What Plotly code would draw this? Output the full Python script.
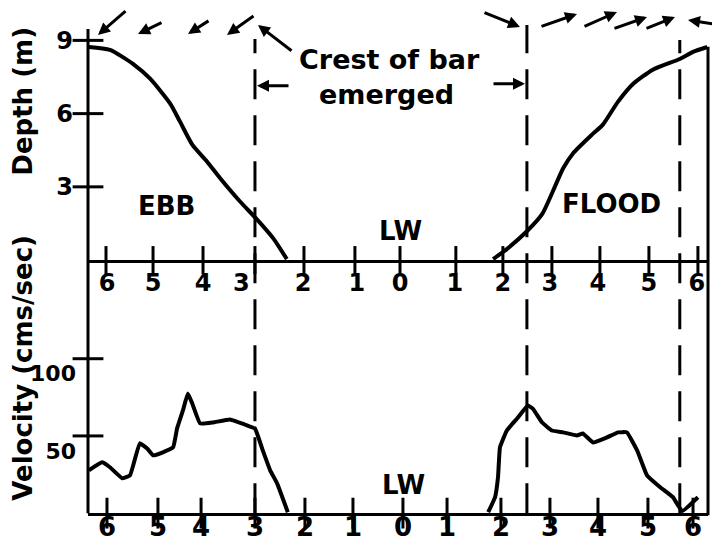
import plotly.graph_objects as go

# ---------------- data (time in hours from low water, LW = 0) ----------------
depth_ebb_h = [-6.35, -5.92, -5.45, -5.10, -4.69, -4.49, -4.24, -3.94, -3.67, -3.27, -2.92, -2.59, -2.31]
depth_ebb_m = [8.73, 8.61, 8.04, 7.43, 6.41, 5.67, 4.73, 4.04, 3.35, 2.41, 1.67, 0.90, 0.04]

depth_flood_h = [1.90, 2.18, 2.59, 2.90, 3.12, 3.33, 3.53, 3.94, 4.14, 4.45, 4.76, 5.16, 5.71, 5.98, 6.27]
depth_flood_m = [0.04, 0.45, 1.18, 1.88, 2.82, 3.76, 4.37, 5.18, 5.55, 6.49, 7.22, 7.80, 8.24, 8.53, 8.73]

vel_ebb_h = [-6.35, -6.08, -5.92, -5.67, -5.51, -5.31, -5.16, -5.04, -4.84, -4.63, -4.55, -4.43,
             -4.33, -4.24, -4.08, -3.82, -3.47, -3.12, -2.96, -2.80, -2.65, -2.51, -2.29]
vel_ebb_v = [27.7, 32.9, 29.7, 22.6, 24.5, 45.2, 41.9, 37.4, 39.4, 42.6, 54.8, 66.5,
             77.4, 71.0, 58.1, 58.7, 60.6, 56.8, 54.8, 40.6, 27.7, 19.4, 0.6]

vel_flood_h = [1.80, 1.94, 2.00, 2.04, 2.18, 2.39, 2.61, 2.71, 2.90, 3.10, 3.33, 3.61, 3.73,
               3.94, 4.22, 4.45, 4.63, 4.84, 5.04, 5.31, 5.57, 5.76, 6.08]
vel_flood_v = [0.6, 10.3, 23.2, 42.6, 53.5, 61.3, 69.7, 67.7, 58.7, 53.5, 52.3, 50.3, 51.6,
               45.8, 49.0, 52.3, 52.3, 40.6, 24.5, 16.8, 10.3, 1.3, 10.3]

# tick marks and tick labels (hours; labels show hours before / after LW)
top_tick_h = [-6.00, -5.04, -4.02, -2.96, -1.96, -0.92, 0.00, 1.14, 2.10, 3.10, 4.08, 5.08, 6.08]
top_label_h = [-5.98, -5.04, -4.02, -3.24, -1.98, -0.88, 0.00, 1.12, 2.10, 3.06, 4.04, 5.08, 6.06]
bot_tick_h = [-5.98, -4.94, -4.06, -2.96, -1.94, -0.96, 0.06, 0.96, 2.06, 3.06, 4.04, 5.06, 5.98]
hour_labels = ["6", "5", "4", "3", "2", "1", "0", "1", "2", "3", "4", "5", "6"]

depth_ticks = [3, 6, 9]
depth_labels = ["3", "6", "9"]
vel_ticks = [50, 100]
vel_labels = ["50", "100"]

bar_emerged_h = [-2.96, 2.59]   # crest of bar emerged
slack_h = [5.71]               # later dashed marker on flood

# ---------------- layout geometry (pixels of the 720x550 page) ----------------
OFF = 8                      # default page (body) margin of the html page
W, H = 720 - OFF, 550 - OFF
PX_L, PX_R = 88, 708
PX_PER_H, PX_LW = 49.0, 400
top_base, top_top = 259, 27
bot_base, bot_top = 513, 270
PX_PER_M = 24.5
PX_PER_V = 1.55

xr = [(PX_L - PX_LW) / PX_PER_H, (PX_R - PX_LW) / PX_PER_H]
def px(x): return (x - OFF) / W
def py(y): return 1 - (y - OFF) / H

FONT = "DejaVu Sans"
fnt = lambda s: dict(family=FONT, size=s, color="black", weight="bold")

fig = go.Figure()

line_style = dict(color="black", width=4, shape="spline", smoothing=0.6)
fig.add_trace(go.Scatter(x=depth_ebb_h, y=depth_ebb_m, mode="lines", line=line_style,
                         xaxis="x", yaxis="y", hoverinfo="skip"))
fig.add_trace(go.Scatter(x=depth_flood_h, y=depth_flood_m, mode="lines", line=line_style,
                         xaxis="x", yaxis="y", hoverinfo="skip"))
vline = dict(color="black", width=4, shape="spline", smoothing=0.3)
fig.add_trace(go.Scatter(x=vel_ebb_h, y=vel_ebb_v, mode="lines", line=vline,
                         xaxis="x2", yaxis="y2", hoverinfo="skip"))
fig.add_trace(go.Scatter(x=vel_flood_h, y=vel_flood_v, mode="lines", line=vline,
                         xaxis="x2", yaxis="y2", hoverinfo="skip"))

# tick marks crossing the axes
tickmark = lambda sym, size: dict(symbol=sym, size=size, color="black",
                                  line=dict(color="black", width=3))
fig.add_trace(go.Scatter(x=top_tick_h, y=[0] * len(top_tick_h), mode="markers",
                         marker=tickmark("line-ns", 20), cliponaxis=False,
                         xaxis="x", yaxis="y", hoverinfo="skip"))
fig.add_trace(go.Scatter(x=bot_tick_h, y=[0] * len(bot_tick_h), mode="markers",
                         marker=tickmark("line-ns", 22), cliponaxis=False,
                         xaxis="x2", yaxis="y2", hoverinfo="skip"))
fig.add_trace(go.Scatter(x=[xr[0]] * len(depth_ticks), y=depth_ticks, mode="markers",
                         marker=tickmark("line-ew", 22), cliponaxis=False,
                         xaxis="x", yaxis="y", hoverinfo="skip"))
fig.add_trace(go.Scatter(x=[xr[0]] * len(vel_ticks), y=vel_ticks, mode="markers",
                         marker=tickmark("line-ew", 22), cliponaxis=False,
                         xaxis="x2", yaxis="y2", hoverinfo="skip"))

dom_x = [px(PX_L), px(PX_R)]
common_x = dict(domain=dom_x, range=xr, showgrid=False, zeroline=False, ticks="",
                showline=True, linewidth=3, linecolor="black", fixedrange=True)
fig.update_layout(
    width=W, height=H, margin=dict(l=0, r=0, t=0, b=0),
    paper_bgcolor="white", plot_bgcolor="white", showlegend=False,
    xaxis=dict(**common_x, anchor="y", tickvals=top_label_h, ticktext=hour_labels,
               tickfont=fnt(24), ticklabelstandoff=-1),
    yaxis=dict(domain=[py(top_base), py(top_top)],
               range=[0, (top_base - top_top) / PX_PER_M], showgrid=False, zeroline=False,
               ticks="", showline=False, tickvals=depth_ticks, ticktext=depth_labels,
               tickfont=fnt(24), ticklabelstandoff=14, anchor="x"),
    xaxis2=dict(**common_x, anchor="y2", tickvals=bot_tick_h, ticktext=hour_labels,
                tickfont=fnt(26), ticklabelstandoff=-11),
    yaxis2=dict(domain=[py(bot_base), py(bot_top)],
                range=[0, (bot_base - bot_top) / PX_PER_V], showgrid=False, zeroline=False,
                ticks="", showline=False, tickvals=vel_ticks, ticktext=vel_labels,
                tickfont=fnt(22), ticklabelshift=15, ticklabelstandoff=11, anchor="x2"),
)

# frame lines (left / right) spanning both panels
shapes = [
    dict(type="line", xref="paper", yref="paper", x0=px(PX_L), x1=px(PX_L),
         y0=py(top_top), y1=py(bot_base), line=dict(color="black", width=3)),
    dict(type="line", xref="paper", yref="paper", x0=px(PX_R), x1=px(PX_R),
         y0=py(45), y1=py(515), line=dict(color="black", width=3)),
]
dash_tops = [37, 23, 38]
for h, top in zip(bar_emerged_h + slack_h, dash_tops):
    shapes.append(dict(type="line", xref="x", yref="paper", x0=h, x1=h,
                       y0=py(bot_base), y1=py(top),
                       line=dict(color="black", width=3, dash="30px,16px")))
fig.update_layout(shapes=shapes)

ann = []
def text(x, y, s, size, xref="x", yref="y", angle=0):
    ann.append(dict(x=x, y=y, xref=xref, yref=yref, text=s, showarrow=False,
                    font=fnt(size), textangle=angle, xanchor="center", yanchor="middle"))

text(-4.76, 2.2, "EBB", 26)
text(0.0, 1.18, "LW", 26)
text(4.31, 2.29, "FLOOD", 26)
text(0.08, 18.1, "LW", 26, xref="x2", yref="y2")
text(px(389), py(58), "Crest of bar", 27, "paper", "paper")
text(px(386), py(93), "emerged", 27, "paper", "paper")
text(px(23), py(100), "Depth (m)", 26, "paper", "paper", -90)
text(px(23), py(367), "Velocity (cms/sec)", 26, "paper", "paper", -90)

# current-direction arrows: (tail px, head px)
arrows = [
    ((127, 8), (98, 33)), ((163, 20), (138, 32)), ((210, 18), (188, 32)), ((255, 13), (227, 33)),
    ((293, 50), (258, 23)), ((290, 84), (257, 84)),
    ((492, 82), (525, 82)), ((483, 10), (520, 25)),
    ((540, 25), (577, 12)), ((583, 25), (617, 10)), ((613, 27), (647, 15)), ((645, 27), (675, 15)),
    ((720, 23), (688, 18)),
]
for (tx, ty), (hx, hy) in arrows:
    ann.append(dict(x=px(hx), y=py(hy), xref="paper", yref="paper", text="",
                    showarrow=True, ax=tx - hx, ay=ty - hy, arrowhead=2, arrowsize=0.8,
                    arrowwidth=3, arrowcolor="black", standoff=0))
fig.update_layout(annotations=ann)

fig.write_html("out.html")
